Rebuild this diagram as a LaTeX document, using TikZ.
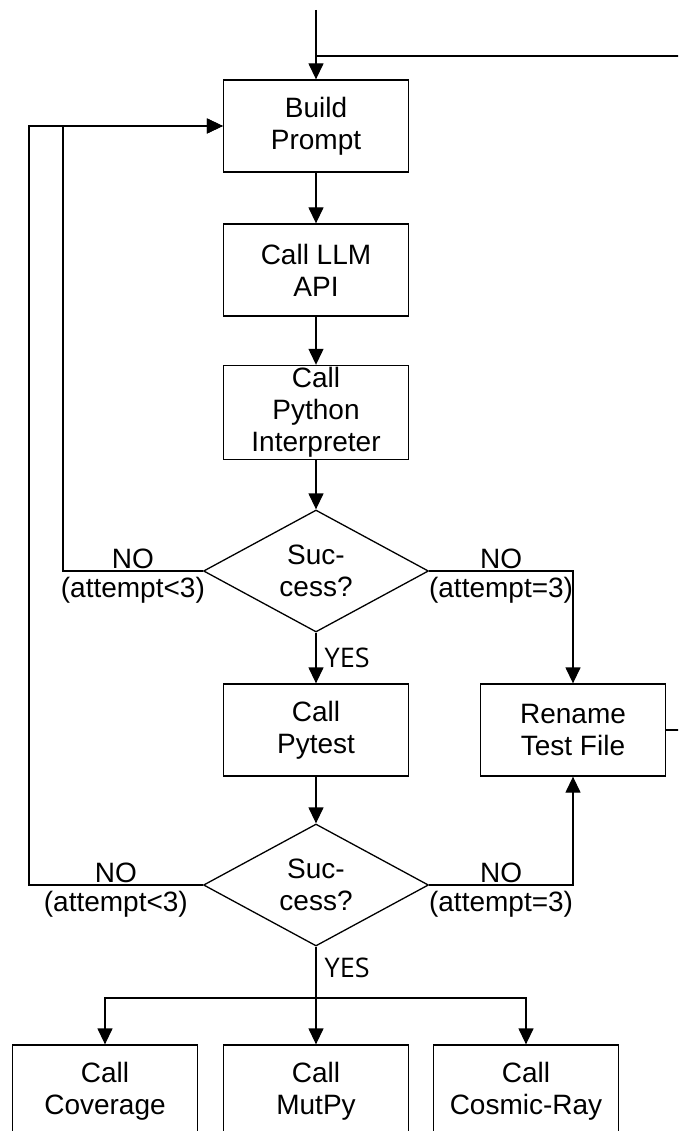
\documentclass[tikz,border=0pt]{standalone}
\usepackage{fontspec}
\setmainfont{Liberation Sans}
\newfontfamily\yesfont{Open Sans}
\usetikzlibrary{shapes.geometric,positioning,arrows.meta}

\tikzset{
  block/.style={draw, rectangle, minimum width=185pt, minimum height=92pt, align=center, inner sep=2pt},
  decision/.style={draw, diamond, aspect=1.84, minimum width=225pt, minimum height=122pt, align=center, inner sep=0pt},
  lbl/.style={inner sep=2pt},
  yes/.style={inner sep=2pt, font=\yesfont\fontsize{27}{32}\selectfont}
}

\begin{document}
\begin{tikzpicture}[x=1pt,y=-1pt,on grid,node distance=144pt,line width=1.3pt,
    >={Triangle[length=16pt,width=15pt]},font=\fontsize{28}{32}\selectfont]
   \clip (0,0) rectangle (678,1131);

   \node[block] (build) at (316,126) {Build\\Prompt};
   \node[block] (llm) [below=of build] {Call LLM\\API};
   \node[block] (python) [below=142.5pt of llm] {Call\\Python\\Interpreter};
   \node[decision] (check1) [below=158.5pt of python] {Suc-\\cess?};
   \node[block] (pytest) [below=159pt of check1] {Call\\Pytest};
   \node[block] (rename) [right=257pt of pytest] {Rename\\Test File};
   \node[decision] (check2) [below=155pt of pytest] {Suc-\\cess?};
   \node[block] (mutpy) [below=206pt of check2] {Call\\MutPy};
   \node[block] (coverage) [left=211pt of mutpy] {Call\\Coverage};
   \node[block] (cosmic) [right=210pt of mutpy] {Call\\Cosmic-Ray};

   \coordinate (start) at (316,10);
   \coordinate (join) at (316,56);
   \coordinate (split) at (316,998);

   \draw[->] (start) -- (build);
   \draw[->] (build) -- (llm);
   \draw[->] (llm) -- (python);
   \draw[->] (python) -- (check1);
   \draw[->] (check1) -- node[yes,right,xshift=6pt] {YES} (pytest);
   \draw[->] (pytest) -- (check2);
   \draw[->] (check2) -- node[yes,right,xshift=6pt,pos=0.22] {YES} (mutpy);

   % retries go back to the prompt
   \draw[->] (check1.west) -- node[lbl,above] {NO} node[lbl,below=4pt] {(attempt<3)} ++(-140,0) |- (build);
   \draw[->] (check2.west) -- node[lbl,above] {NO} node[lbl,below=4pt] {(attempt<3)} ++(-174,0) |- (build);

   % last attempt
   \draw[->] (check1.east) -| node[lbl,pos=0.25,above] {NO} node[lbl,pos=0.25,below=4pt] {(attempt=3)} (rename);
   \draw[->] (check2.east) -| node[lbl,pos=0.25,above] {NO} node[lbl,pos=0.25,below=4pt] {(attempt=3)} (rename);
   \draw (rename.east) -- ++(40,0) |- (join);

   \draw[->] (split) -| (coverage);
   \draw[->] (split) -| (cosmic);
\end{tikzpicture}
\end{document}
